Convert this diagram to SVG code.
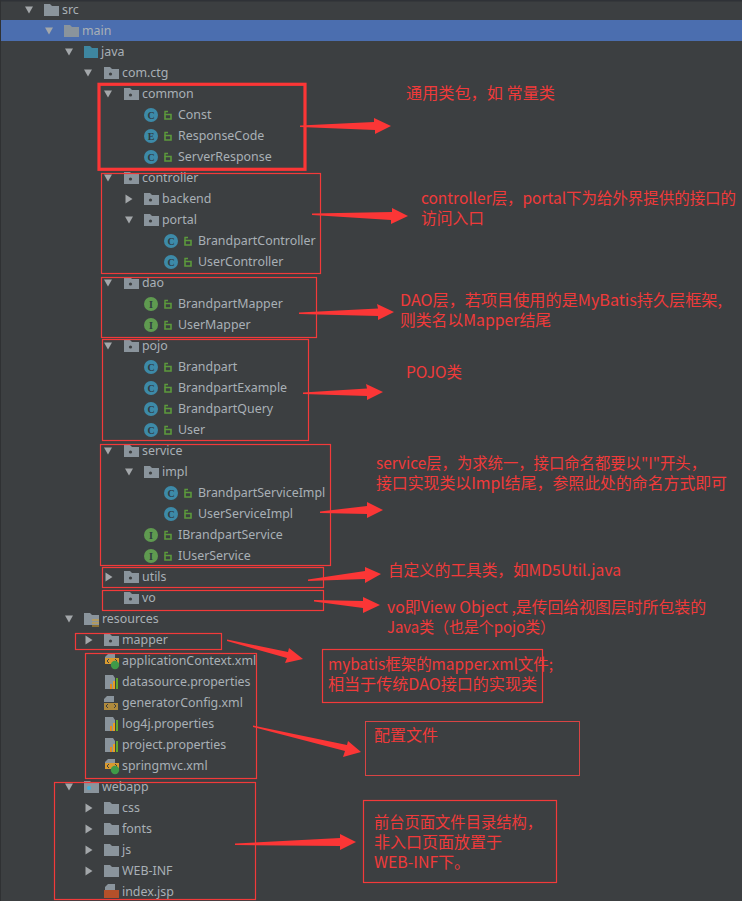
<svg xmlns="http://www.w3.org/2000/svg" width="742" height="901" viewBox="0 0 742 901">
<style>
.t{font-family:"Noto Sans","Liberation Sans",sans-serif;font-size:12.4px;fill:#a9b0b6}
.a{font-family:"Noto Sans CJK SC","Noto Sans",sans-serif;font-size:15.5px;fill:#f03a3a}
.r{fill:none;stroke:#f23a3a;stroke-width:1.2}
.ic{font-family:"Liberation Serif",serif;font-size:10px;font-weight:bold;fill:#2f3a40;text-anchor:middle}
.arrow{fill:#fb3636}
</style>
<defs>
<path id="td" d="M-4,-3.500H4L0,3.500Z" fill="#a3a7aa"/>
<path id="tr" d="M-3.500,-4.500L3.500,0L-3.500,4.500Z" fill="#a3a7aa"/>
<path id="fold" d="M0,-6H6L8,-4H15V6H0Z" fill="#8a949c"/>
<g id="pkg"><use href="#fold"/><circle cx="6.500" cy="1" r="1.600" fill="#3c3f41"/></g>
<path id="jfold" d="M0,-6H6L8,-4H14V6H0Z" fill="#3e86a0"/>
<g id="lock"><path d="M-2,-0.500H4V4H-2Z" fill="none" stroke="#5c9a3c" stroke-width="1.600"/><path d="M-2,-0.500V-3.500H1" fill="none" stroke="#5c9a3c" stroke-width="1.400"/></g>
<g id="c"><circle r="7" fill="#3d8aa8"/><text class="ic" y="3.500">C</text><use href="#lock" x="16"/></g>
<g id="e"><circle r="7" fill="#3d8aa8"/><text class="ic" y="3.500">E</text><use href="#lock" x="16"/></g>
<g id="i"><circle r="7" fill="#5f9a50"/><text class="ic" y="3.500">I</text><use href="#lock" x="16"/></g>
<path id="file" d="M3,-7H10V-1H0V-4Z" fill="#8a949c"/>
<path id="code" d="M4,1L2,3L4,5M10,1L12,3L10,5" fill="none" stroke="#3c3f41" stroke-width="1"/>
<g id="prop"><path d="M0,-7H8L10,-4V7H0Z" fill="#8a949c"/><rect x="5" y="2" width="2" height="5" fill="#e08a20"/><rect x="8" y="-1" width="2" height="8" fill="#e8a020"/><rect x="11" y="-4" width="2" height="11" fill="#5fa82a"/></g>
<g id="xml"><use href="#file"/><rect y="0" width="14" height="7" fill="#b08a3c"/><use href="#code"/></g>
<g id="sxml"><use href="#file"/><rect y="-3" width="14" height="6" fill="#d89a30"/><path d="M4,-2L2,0L4,2M10,-2L12,0L10,2" fill="none" stroke="#3c3f41"/><circle cx="10" cy="4" r="4.200" fill="#3f9a48"/></g>
</defs>
<rect width="742" height="901" fill="#3c3f41"/>
<rect width="742" height="1.500" fill="#2f3237"/>
<rect width="1" height="901" fill="#2f3133"/>
<rect x="1" y="20" width="741" height="21" fill="#4b6eaf"/>
<g id="tree">
<use href="#td" x="29" y="10"/><use href="#fold" x="44" y="10"/><text class="t" x="62" y="14">src</text>
<use href="#td" x="49" y="31"/><use href="#fold" x="64" y="31"/><text class="t" x="82" y="35">main</text>
<use href="#td" x="69" y="52"/><use href="#jfold" x="84" y="52"/><text class="t" x="101" y="56">java</text>
<use href="#td" x="88" y="73"/><use href="#pkg" x="104" y="73"/><text class="t" x="122" y="77">com.ctg</text>
<use href="#td" x="108" y="94"/><use href="#pkg" x="124" y="94"/><text class="t" x="142" y="98">common</text>
<use href="#c" x="151" y="115"/><text class="t" x="178" y="119">Const</text>
<use href="#e" x="151" y="136"/><text class="t" x="178" y="140">ResponseCode</text>
<use href="#c" x="151" y="157"/><text class="t" x="178" y="161">ServerResponse</text>
<use href="#td" x="108" y="178"/><use href="#pkg" x="124" y="178"/><text class="t" x="142" y="182">controller</text>
<use href="#tr" x="129" y="199"/><use href="#pkg" x="144" y="199"/><text class="t" x="162" y="203">backend</text>
<use href="#td" x="129" y="220"/><use href="#pkg" x="144" y="220"/><text class="t" x="162" y="224">portal</text>
<use href="#c" x="171" y="241"/><text class="t" x="198" y="245">BrandpartController</text>
<use href="#c" x="171" y="262"/><text class="t" x="198" y="266">UserController</text>
<use href="#td" x="108" y="283"/><use href="#pkg" x="124" y="283"/><text class="t" x="142" y="287">dao</text>
<use href="#i" x="151" y="304"/><text class="t" x="178" y="308">BrandpartMapper</text>
<use href="#i" x="151" y="325"/><text class="t" x="178" y="329">UserMapper</text>
<use href="#td" x="108" y="346"/><use href="#pkg" x="124" y="346"/><text class="t" x="142" y="350">pojo</text>
<use href="#c" x="151" y="367"/><text class="t" x="178" y="371">Brandpart</text>
<use href="#c" x="151" y="388"/><text class="t" x="178" y="392">BrandpartExample</text>
<use href="#c" x="151" y="409"/><text class="t" x="178" y="413">BrandpartQuery</text>
<use href="#c" x="151" y="430"/><text class="t" x="178" y="434">User</text>
<use href="#td" x="108" y="451"/><use href="#pkg" x="124" y="451"/><text class="t" x="142" y="455">service</text>
<use href="#td" x="129" y="472"/><use href="#pkg" x="144" y="472"/><text class="t" x="162" y="476">impl</text>
<use href="#c" x="171" y="493"/><text class="t" x="198" y="497">BrandpartServiceImpl</text>
<use href="#c" x="171" y="514"/><text class="t" x="198" y="518">UserServiceImpl</text>
<use href="#i" x="151" y="535"/><text class="t" x="178" y="539">IBrandpartService</text>
<use href="#i" x="151" y="556"/><text class="t" x="178" y="560">IUserService</text>
<use href="#tr" x="109" y="577"/><use href="#pkg" x="124" y="577"/><text class="t" x="142" y="581">utils</text>
<use href="#pkg" x="124" y="598"/><text class="t" x="142" y="602">vo</text>
<use href="#td" x="69" y="619"/><use href="#fold" x="84" y="619"/><path d="M92,620h7M92,623h7M92,626h7" stroke="#d8a028" stroke-width="1.200"/><text class="t" x="102" y="623">resources</text>
<use href="#tr" x="89" y="640"/><use href="#pkg" x="104" y="640"/><text class="t" x="122" y="644">mapper</text>
<use href="#sxml" x="105" y="661"/><text class="t" x="122" y="665">applicationContext.xml</text>
<use href="#prop" x="105" y="682"/><text class="t" x="122" y="686">datasource.properties</text>
<use href="#xml" x="104" y="703"/><text class="t" x="122" y="707">generatorConfig.xml</text>
<use href="#prop" x="105" y="724"/><text class="t" x="122" y="728">log4j.properties</text>
<use href="#prop" x="105" y="745"/><text class="t" x="122" y="749">project.properties</text>
<use href="#sxml" x="105" y="766"/><text class="t" x="122" y="770">springmvc.xml</text>
<use href="#td" x="69" y="787"/><use href="#fold" x="84" y="787"/><circle cx="89" cy="788" r="2" fill="#3fb0d8"/><text class="t" x="102" y="791">webapp</text>
<use href="#tr" x="89" y="808"/><use href="#fold" x="104" y="808"/><text class="t" x="122" y="812">css</text>
<use href="#tr" x="89" y="829"/><use href="#fold" x="104" y="829"/><text class="t" x="122" y="833">fonts</text>
<use href="#tr" x="89" y="850"/><use href="#fold" x="104" y="850"/><text class="t" x="122" y="854">js</text>
<use href="#tr" x="89" y="871"/><use href="#fold" x="104" y="871"/><text class="t" x="122" y="875">WEB-INF</text>
<use href="#file" x="105" y="891"/><rect x="104" y="890" width="15" height="8" fill="#b4502a"/><text class="t" x="122" y="896">index.jsp</text>
</g>
<g id="boxes">
<rect x="99" y="84.300" width="206" height="85" fill="none" stroke="#fb3636" stroke-width="3.200"/>
<rect class="r" x="101.500" y="173.500" width="219" height="100"/>
<rect class="r" x="101.500" y="277.500" width="215" height="60"/>
<rect class="r" x="102.500" y="339.500" width="206" height="101"/>
<rect class="r" x="100.500" y="444.500" width="230" height="121"/>
<rect class="r" x="102.500" y="567.500" width="221" height="20"/>
<rect class="r" x="102.500" y="590.500" width="221" height="20"/>
<rect class="r" x="75.500" y="633.500" width="146" height="16"/>
<rect class="r" x="85.500" y="653.500" width="171" height="125"/>
<rect class="r" x="54.500" y="782.500" width="201" height="117"/>
<rect class="r" x="322.500" y="649.500" width="220" height="53"/>
<rect x="365.500" y="721.500" width="214" height="54" fill="none" stroke="#d84444" stroke-width="1"/>
<rect class="r" x="363.500" y="800.500" width="193" height="82"/>
</g>
<g id="connectors">
<path class="arrow" d="M300,125.500L374,122L374,118L391,126L375,134L375,130L300,127Z"/>
<path class="arrow" d="M312,213.500L392,212L392,208L408,216L391,224L391,220L312,215Z"/>
<path class="arrow" d="M299,312.500L378,308.500L377,304L394,312L378,320L378,316L299,314Z"/>
<path class="arrow" d="M303,392.500L367,388.500L366,384L383,392L367,400L367,396L303,394Z"/>
<path class="arrow" d="M320,511.500L367,506L367,502L383,510L367,518L367,514L320,513Z"/>
<path class="arrow" d="M308,579.500L365,571L365,567L381,574L365,583L365,579L308,581Z"/>
<path class="arrow" d="M314,600L363,601L363,597L380,605L363,613L363,608L314,601.500Z"/>
<path class="arrow" d="M227,639.500L288,652L289,648L303,659L285,663L287,658L227,641Z"/>
<path class="arrow" d="M253,725.500L347,745L348,741L361,752L343,757L345,751L253,727Z"/>
<path class="arrow" d="M235,843.500L340,838L340,834L356,842L340,850L340,846L235,845Z"/>
</g>
<g id="notes">
<text class="a" x="406" y="99" textLength="149" lengthAdjust="spacingAndGlyphs">通用类包，如 常量类</text>
<text class="a" x="421" y="204" textLength="315" lengthAdjust="spacingAndGlyphs">controller层，portal下为给外界提供的接口的</text>
<text class="a" x="421" y="224" textLength="63" lengthAdjust="spacingAndGlyphs">访问入口</text>
<text class="a" x="400" y="305.500" textLength="322" lengthAdjust="spacingAndGlyphs">DAO层，若项目使用的是MyBatis持久层框架,</text>
<text class="a" x="400" y="325.500" textLength="151" lengthAdjust="spacingAndGlyphs">则类名以Mapper结尾</text>
<text class="a" x="406" y="378" textLength="56" lengthAdjust="spacingAndGlyphs">POJO类</text>
<text class="a" x="376" y="469" textLength="330" lengthAdjust="spacingAndGlyphs">service层，为求统一，接口命名都要以"I"开头，</text>
<text class="a" x="376" y="489" textLength="351" lengthAdjust="spacingAndGlyphs">接口实现类以Impl结尾，参照此处的命名方式即可</text>
<text class="a" x="388" y="576" textLength="233" lengthAdjust="spacingAndGlyphs">自定义的工具类，如MD5Util.java</text>
<text class="a" x="387" y="613" textLength="319" lengthAdjust="spacingAndGlyphs">vo即View Object ,是传回给视图层时所包装的</text>
<text class="a" x="387" y="633" textLength="168" lengthAdjust="spacingAndGlyphs">Java类（也是个pojo类）</text>
<text class="a" x="328" y="670" textLength="225" lengthAdjust="spacingAndGlyphs">mybatis框架的mapper.xml文件;</text>
<text class="a" x="328" y="690" textLength="209" lengthAdjust="spacingAndGlyphs">相当于传统DAO接口的实现类</text>
<text class="a" x="374" y="741" textLength="64" lengthAdjust="spacingAndGlyphs">配置文件</text>
<text class="a" x="374" y="828" textLength="168" lengthAdjust="spacingAndGlyphs">前台页面文件目录结构，</text>
<text class="a" x="374" y="848" textLength="128" lengthAdjust="spacingAndGlyphs">非入口页面放置于</text>
<text class="a" x="374" y="868" textLength="96" lengthAdjust="spacingAndGlyphs">WEB-INF下。</text>
</g>
</svg>
